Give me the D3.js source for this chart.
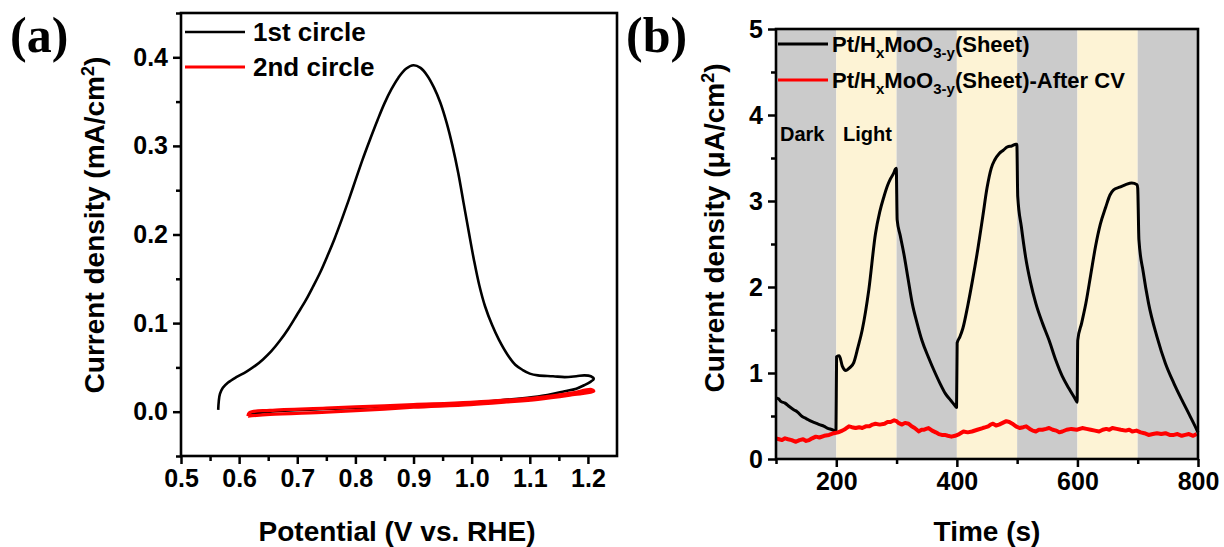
<!DOCTYPE html>
<html>
<head>
<meta charset="utf-8">
<script src="https://cdn.jsdelivr.net/npm/d3@7"></script>
<style>
  body { margin: 0; background: #fff; }
  svg { display: block; font-family: "Liberation Sans", Arial, sans-serif; font-weight: bold; }
  .tick text { font-weight: bold; }
</style>
</head>
<body>
<svg width="1224" height="547"></svg>
<script>
// ---- panel (a): CV scans, [potential V vs RHE, current density mA/cm2]
const cycle1 = [
  [0.564, 0.002], [0.565, 0.012], [0.567, 0.020], [0.572, 0.027], [0.581, 0.033],
  [0.595, 0.039], [0.612, 0.045], [0.628, 0.052], [0.641, 0.059], [0.655, 0.068],
  [0.670, 0.080], [0.685, 0.094], [0.700, 0.110], [0.714, 0.125], [0.727, 0.141],
  [0.740, 0.158], [0.752, 0.176], [0.764, 0.195], [0.776, 0.216], [0.788, 0.238],
  [0.800, 0.261], [0.812, 0.284], [0.825, 0.307], [0.838, 0.329], [0.850, 0.348],
  [0.862, 0.364], [0.874, 0.377], [0.887, 0.387], [0.900, 0.391], [0.912, 0.388],
  [0.924, 0.379], [0.935, 0.366], [0.946, 0.349], [0.957, 0.326], [0.967, 0.300],
  [0.977, 0.269], [0.986, 0.236], [0.995, 0.203], [1.004, 0.171], [1.013, 0.143],
  [1.023, 0.119], [1.035, 0.098], [1.047, 0.081], [1.062, 0.064], [1.075, 0.053],
  [1.088, 0.047], [1.100, 0.043], [1.114, 0.041], [1.140, 0.040], [1.160, 0.039],
  [1.180, 0.040], [1.194, 0.041], [1.205, 0.040], [1.210, 0.037], [1.205, 0.034],
  [1.194, 0.030], [1.180, 0.026], [1.160, 0.023], [1.114, 0.017], [1.050, 0.013],
  [0.998, 0.010], [0.900, 0.007], [0.825, 0.005], [0.750, 0.003], [0.653, 0.000],
  [0.618, -0.003]
];
const cycle2 = [
  [0.615, -0.005], [0.653, -0.003], [0.750, -0.0005], [0.825, 0.002], [0.900, 0.005],
  [0.998, 0.008], [1.060, 0.011], [1.114, 0.014], [1.171, 0.019], [1.210, 0.023],
  [1.206, 0.025], [1.171, 0.021], [1.114, 0.016], [0.998, 0.0105], [0.900, 0.008],
  [0.825, 0.006], [0.750, 0.004], [0.653, 0.0015], [0.618, -0.001], [0.615, -0.005]
];
const cvNames = ["1st circle", "2nd circle"];
const cvXTicks = [0.5, 0.6, 0.7, 0.8, 0.9, 1.0, 1.1, 1.2];
const cvYTicks = [0.0, 0.1, 0.2, 0.3, 0.4];

// ---- panel (b): photocurrent, [time s, current density uA/cm2]
const sheet = [
  [100, 0.71], [104, 0.70], [108, 0.67], [115, 0.65], [122, 0.61], [130, 0.57],
  [135, 0.55], [144, 0.49], [150, 0.47], [158, 0.44], [165, 0.42], [172, 0.40],
  [180, 0.38], [185, 0.36], [194, 0.34], [199.5, 0.32],
  [200.5, 1.19], [205, 1.20], [210, 1.08], [216, 1.03], [222, 1.06], [229, 1.12],
  [236, 1.30], [243, 1.50], [254, 1.97], [265, 2.62], [272, 2.87], [279, 3.05],
  [285, 3.18], [290, 3.26], [295, 3.32], [298, 3.37], [299.5, 3.38],
  [301, 2.78], [306, 2.60], [312, 2.39], [319, 2.10], [326, 1.81], [334, 1.58],
  [342, 1.38], [353, 1.18], [364, 1.00], [372, 0.88], [381, 0.76], [390, 0.68],
  [397, 0.62], [399.5, 0.60],
  [400.5, 1.35], [405, 1.42], [410, 1.52], [418, 1.78], [426, 2.08], [435, 2.45],
  [443, 2.82], [450, 3.15], [457, 3.38], [463, 3.48], [470, 3.55], [477, 3.59],
  [484, 3.63], [491, 3.64], [498, 3.66], [499.5, 3.66],
  [501, 3.05], [507, 2.70], [514, 2.35], [522, 2.06], [531, 1.81], [542, 1.58],
  [553, 1.38], [564, 1.15], [575, 0.96], [586, 0.82], [597, 0.69], [599.5, 0.66],
  [600.5, 1.38], [607, 1.58], [614, 1.81], [622, 2.14], [630, 2.47], [638, 2.73],
  [647, 2.93], [654, 3.07], [660, 3.13], [670, 3.16], [680, 3.19], [690, 3.21],
  [699, 3.19], [700, 3.15],
  [702, 2.55], [709, 2.18], [718, 1.81], [732, 1.42], [746, 1.11], [760, 0.88],
  [773, 0.69], [786, 0.51], [798, 0.34], [800, 0.31]
];
const afterCV = [
  [100, 0.24], [105, 0.23], [110, 0.22], [115, 0.24], [120, 0.23], [126, 0.22],
  [133, 0.20], [139, 0.22], [145, 0.23], [150, 0.21], [155, 0.22], [160, 0.24],
  [166, 0.26], [172, 0.25], [180, 0.27], [188, 0.28], [196, 0.30], [203, 0.31],
  [210, 0.33], [215, 0.35], [221, 0.38], [226, 0.37], [232, 0.36], [238, 0.37],
  [243, 0.36], [249, 0.38], [255, 0.38], [260, 0.40], [265, 0.41], [272, 0.40],
  [280, 0.41], [285, 0.43], [290, 0.43], [296, 0.45], [300, 0.44], [303, 0.42],
  [309, 0.40], [314, 0.42], [320, 0.41], [325, 0.38], [330, 0.36], [337, 0.32],
  [341, 0.34], [345, 0.34], [349, 0.35], [353, 0.36], [359, 0.33], [365, 0.31],
  [370, 0.29], [375, 0.28], [380, 0.28], [385, 0.27], [391, 0.26], [397, 0.27],
  [404, 0.29], [411, 0.32], [418, 0.31], [425, 0.32], [434, 0.34], [443, 0.36],
  [448, 0.37], [452, 0.38], [456, 0.40], [460, 0.41], [465, 0.39], [470, 0.40],
  [476, 0.42], [482, 0.44], [487, 0.43], [492, 0.41], [498, 0.38], [504, 0.36],
  [510, 0.37], [515, 0.38], [521, 0.35], [526, 0.33], [531, 0.32], [536, 0.34],
  [542, 0.34], [548, 0.35], [553, 0.36], [559, 0.34], [565, 0.33], [570, 0.31],
  [575, 0.32], [582, 0.34], [590, 0.35], [599, 0.34], [608, 0.36], [615, 0.35],
  [622, 0.34], [629, 0.33], [636, 0.32], [642, 0.34], [648, 0.35], [653, 0.34],
  [658, 0.36], [665, 0.35], [672, 0.34], [680, 0.33], [686, 0.34], [691, 0.32],
  [698, 0.33], [705, 0.31], [711, 0.30], [718, 0.28], [725, 0.29], [732, 0.30],
  [739, 0.29], [746, 0.30], [753, 0.28], [760, 0.28], [766, 0.29], [773, 0.27],
  [779, 0.28], [785, 0.29], [792, 0.27], [798, 0.29]
];
const bandEdges = [100, 200, 300, 400, 500, 600, 700, 800];
const bandState = ["dark", "light", "dark", "light", "dark", "light", "dark"];
const ptXTicks = [200, 400, 600, 800];
const ptYTicks = [0, 1, 2, 3, 4, 5];

const svg = d3.select("svg");
const fontTick = 25, fontLabel = 28;

function frameAxes(g, x, y, w, h, xTicks, yTicks, xMinor, yMinor, fmtX, fmtY) {
  g.append("g").attr("transform", `translate(0,${h})`)
    .call(d3.axisBottom(x).tickValues(xTicks).tickFormat(fmtX).tickSize(8).tickSizeOuter(0).tickPadding(5));
  g.append("g")
    .call(d3.axisLeft(y).tickValues(yTicks).tickFormat(fmtY).tickSize(8).tickSizeOuter(0).tickPadding(5));
  g.append("g").attr("transform", `translate(0,${h})`)
    .call(d3.axisBottom(x).tickValues(xMinor).tickFormat("").tickSize(5).tickSizeOuter(0));
  g.append("g")
    .call(d3.axisLeft(y).tickValues(yMinor).tickFormat("").tickSize(5).tickSizeOuter(0));
  g.selectAll(".domain").remove();
  g.selectAll(".tick line").attr("stroke", "#000").attr("stroke-width", 2.5);
  g.selectAll(".tick text").attr("fill", "#000").style("font-size", fontTick + "px")
    .style("font-family", "'Liberation Sans', Arial, sans-serif");
  g.append("rect").attr("width", w).attr("height", h)
    .attr("fill", "none").attr("stroke", "#000").attr("stroke-width", 2.6);
}

// ================= panel (a) =================
{
  const L = 181, T = 13, W = 617 - 181, H = 456 - 13;
  const g = svg.append("g").attr("transform", `translate(${L},${T})`);
  const x = d3.scaleLinear().domain([0.5, 1.25]).range([0, W]);
  const y = d3.scaleLinear().domain([-0.05, 0.45]).range([H, 0]);

  const line = d3.line().x(d => x(d[0])).y(d => y(d[1])).curve(d3.curveCatmullRom.alpha(0.5));
  g.append("path").datum(cycle1).attr("d", line)
    .attr("fill", "none").attr("stroke", "#000").attr("stroke-width", 2.6);
  g.append("path").datum(cycle2).attr("d", line)
    .attr("fill", "none").attr("stroke", "#ff0000").attr("stroke-width", 3.2);

  frameAxes(g, x, y, W, H, cvXTicks, cvYTicks,
    d3.range(0.55, 1.25, 0.1), [-0.05, 0.05, 0.15, 0.25, 0.35, 0.45],
    d3.format(".1f"), d3.format(".1f"));

  // legend
  const leg = g.append("g");
  [["#000", 19], ["#ff0000", 54]].forEach((c, i) => {
    leg.append("line").attr("x1", 4).attr("x2", 64).attr("y1", c[1]).attr("y2", c[1])
      .attr("stroke", c[0]).attr("stroke-width", i ? 3.2 : 2.6);
    leg.append("text").attr("x", 72).attr("y", c[1] + 9)
      .style("font-size", "26px").text(cvNames[i]);
  });

  svg.append("text")
    .attr("transform", `translate(104,225) rotate(-90)`)
    .attr("text-anchor", "middle")
    .style("font-size", fontLabel + "px")
    .html("Current density (mA/cm<tspan dy='-10' font-size='18'>2</tspan><tspan dy='10'>)</tspan>");
  svg.append("text").attr("x", L + W / 2 - 2).attr("y", 541).attr("text-anchor", "middle")
    .style("font-size", fontLabel + "px").text("Potential (V vs. RHE)");
  svg.append("text").attr("x", 10).attr("y", 52)
    .style("font-family", "'Liberation Serif', 'Times New Roman', serif")
    .style("font-size", "50px").text("(a)");
}

// ================= panel (b) =================
{
  const L = 776, T = 29, W = 1198 - 776, H = 459 - 29;
  const g = svg.append("g").attr("transform", `translate(${L},${T})`);
  const x = d3.scaleLinear().domain([100, 800]).range([0, W]);
  const y = d3.scaleLinear().domain([0, 5]).range([H, 0]);

  g.selectAll("rect.band").data(bandState).join("rect").attr("class", "band")
    .attr("x", (d, i) => x(bandEdges[i])).attr("width", (d, i) => x(bandEdges[i + 1]) - x(bandEdges[i]))
    .attr("y", 0).attr("height", H)
    .attr("fill", d => d === "dark" ? "#cbcbcb" : "#fdf3d5");

  g.append("text").attr("x", 4).attr("y", 112).style("font-size", "20px").text("Dark");
  g.append("text").attr("x", 67).attr("y", 112).style("font-size", "20px").text("Light");

  const line = d3.line().x(d => x(d[0])).y(d => y(d[1])).curve(d3.curveMonotoneX);
  g.append("path").datum(sheet).attr("d", line)
    .attr("fill", "none").attr("stroke", "#000").attr("stroke-width", 3).attr("stroke-linejoin", "round");
  g.append("path").datum(afterCV).attr("d", d3.line().x(d => x(d[0])).y(d => y(d[1])))
    .attr("fill", "none").attr("stroke", "#ff0000").attr("stroke-width", 4).attr("stroke-linejoin", "round");

  frameAxes(g, x, y, W, H, ptXTicks, ptYTicks,
    [100, 300, 500, 700], [0.5, 1.5, 2.5, 3.5, 4.5],
    d3.format("d"), d3.format("d"));

  // legend
  const leg = g.append("g");
  [["#000", 15, ""], ["#ff0000", 51, "-After CV"]].forEach((c, i) => {
    leg.append("line").attr("x1", 2).attr("x2", 52).attr("y1", c[1]).attr("y2", c[1])
      .attr("stroke", c[0]).attr("stroke-width", 3);
    leg.append("text").attr("x", 56).attr("y", c[1] + 8).style("font-size", "22px")
      .html(`Pt/H<tspan dy="6" font-size="15">x</tspan><tspan dy="-6">MoO</tspan><tspan dy="6" font-size="15">3-y</tspan><tspan dy="-6">(Sheet)${c[2]}</tspan>`);
  });

  svg.append("text")
    .attr("transform", `translate(724,228) rotate(-90)`)
    .attr("text-anchor", "middle")
    .style("font-size", fontLabel + "px")
    .html("Current density (\u03bcA/cm<tspan dy='-10' font-size='18'>2</tspan><tspan dy='10'>)</tspan>");
  svg.append("text").attr("x", L + W / 2).attr("y", 541).attr("text-anchor", "middle")
    .style("font-size", fontLabel + "px").text("Time (s)");
  svg.append("text").attr("x", 626).attr("y", 52)
    .style("font-family", "'Liberation Serif', 'Times New Roman', serif")
    .style("font-size", "50px").text("(b)");
}
</script>
</body>
</html>
